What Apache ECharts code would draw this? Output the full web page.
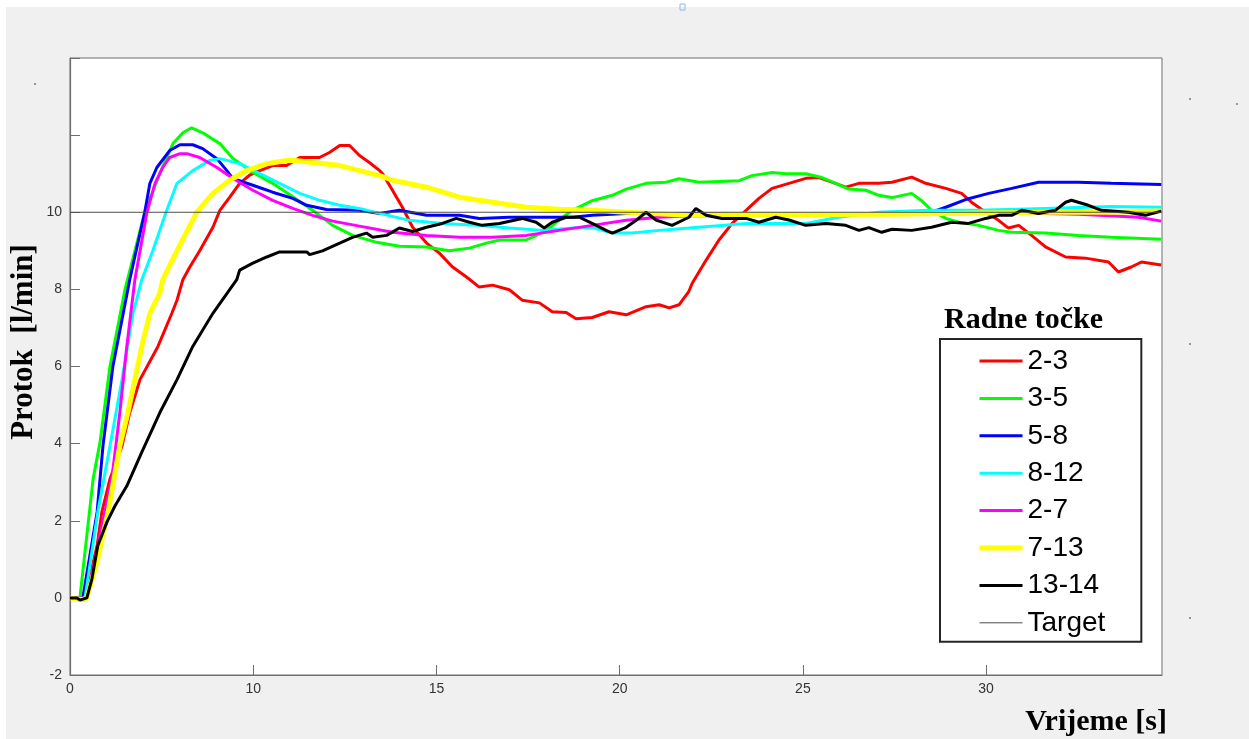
<!DOCTYPE html>
<html>
<head>
<meta charset="utf-8">
<script src="https://cdn.jsdelivr.net/npm/echarts@6/dist/echarts.min.js"></script>
<style>
  html, body { margin: 0; padding: 0; background: #ffffff; }
  #bg { position: absolute; left: 6px; top: 7px; width: 1243px; height: 732px; background: #f0f0f0; }
  #chart { position: absolute; left: 0; top: 0; width: 1249px; height: 739px; }
</style>
</head>
<body>
<div id="bg"></div>
<div id="chart"></div>
<script>
// ---- data (time in axis units, flow in l/min) ----
const seriesNames = ['2-3', '3-5', '5-8', '8-12', '2-7', '7-13', '13-14', 'Target'];
const seriesColors = ['#ff0000', '#00ff00', '#0000ff', '#00ffff', '#ff00ff', '#ffff00', '#000000', '#4d4d4d'];

const xTickLabels = { 5: '0', 10: '10', 15: '15', 20: '20', 25: '25', 30: '30' };
const targetValue = 10;
const timeRange = [5, 34.8];

const data23 = [[5,0],[5.41,0],[5.74,1.36],[5.87,2.23],[6.09,3.08],[6.42,3.94],[6.63,4.8],[6.91,5.66],[7.4,6.52],[7.78,7.38],[7.92,7.72],[8.08,8.25],[8.27,8.58],[8.54,9.0],[8.9,9.61],[9.09,10.05],[9.36,10.39],[9.63,10.75],[9.9,10.96],[10.18,11.08],[10.53,11.21],[10.91,11.21],[11.27,11.42],[11.81,11.42],[12.08,11.55],[12.36,11.73],[12.63,11.73],[12.9,11.47],[13.17,11.29],[13.45,11.08],[13.53,11.0],[13.8,10.57],[14.07,10.13],[14.35,9.61],[14.73,9.2],[15.08,8.94],[15.44,8.58],[15.82,8.32],[16.17,8.06],[16.53,8.11],[16.99,7.99],[17.34,7.72],[17.81,7.65],[18.16,7.42],[18.54,7.4],[18.81,7.24],[19.25,7.27],[19.71,7.42],[20.18,7.34],[20.72,7.55],[21.08,7.6],[21.35,7.52],[21.62,7.6],[21.89,7.95],[21.98,8.16],[22.36,8.76],[22.71,9.28],[23.07,9.71],[23.45,10.05],[23.8,10.36],[24.16,10.62],[24.62,10.75],[25.08,10.88],[25.44,10.9],[25.79,10.78],[26.17,10.65],[26.53,10.75],[27.07,10.75],[27.43,10.78],[27.97,10.91],[28.35,10.75],[28.9,10.62],[29.33,10.49],[29.6,10.26],[29.99,10.0],[30.34,9.79],[30.61,9.59],[30.89,9.66],[31.24,9.4],[31.62,9.1],[32.17,8.84],[32.71,8.81],[33.34,8.71],[33.61,8.45],[33.96,8.58],[34.24,8.71],[34.78,8.63]];

const data35 = [[5,0],[5.27,0],[5.63,3.08],[5.82,4.04],[6.09,6.0],[6.44,7.7],[6.5,8.0],[7.04,10.0],[7.45,11.0],[7.81,11.78],[8.08,12.06],[8.32,12.19],[8.62,12.06],[9.09,11.78],[9.44,11.4],[9.99,11.03],[10.53,10.75],[11.08,10.4],[11.62,10.05],[12.17,9.66],[12.71,9.4],[13.37,9.22],[13.99,9.12],[14.73,9.1],[15.35,9.0],[15.9,9.07],[16.36,9.2],[16.72,9.28],[17.45,9.28],[17.72,9.4],[18.0,9.53],[18.35,9.8],[18.71,10.05],[19.25,10.3],[19.8,10.44],[20.18,10.6],[20.72,10.75],[21.27,10.78],[21.62,10.87],[22.17,10.78],[23.26,10.82],[23.61,10.95],[24.16,11.03],[24.54,11.0],[25.08,11.0],[25.52,10.9],[25.9,10.75],[26.25,10.6],[26.72,10.57],[27.07,10.44],[27.43,10.38],[27.97,10.49],[28.24,10.3],[28.51,10.05],[28.9,9.84],[29.25,9.74],[29.8,9.66],[30.34,9.53],[30.7,9.48],[31.62,9.46],[32.52,9.4],[33.42,9.35],[34.78,9.3]];

const data58 = [[5,0],[5.35,0],[5.74,2.23],[5.9,3.94],[6.17,6.0],[6.63,8.25],[7.04,10.0],[7.18,10.75],[7.37,11.16],[7.72,11.6],[8.0,11.75],[8.35,11.75],[8.62,11.65],[9.01,11.39],[9.28,11.08],[9.44,10.88],[9.99,10.7],[10.53,10.52],[11.08,10.36],[11.46,10.18],[12.0,10.07],[12.9,10.05],[13.45,9.97],[13.99,10.05],[14.73,9.92],[15.63,9.92],[16.17,9.84],[16.99,9.87],[17.89,9.87],[18.71,9.87],[19.25,9.92],[20.18,9.97],[21.89,9.97],[23.5,9.95],[25.5,9.97],[27.5,9.97],[28.51,10.0],[28.9,10.13],[29.44,10.33],[30.07,10.49],[30.7,10.62],[31.43,10.78],[32.52,10.78],[33.42,10.75],[34.78,10.72]];

const data812 = [[5,0],[5.41,0],[5.76,2.23],[6.09,3.94],[6.42,5.66],[6.72,7.38],[6.96,8.25],[7.26,9.0],[7.62,10.0],[7.92,10.75],[8.35,11.08],[8.81,11.34],[9.09,11.39],[9.63,11.26],[10.18,11.0],[10.72,10.75],[11.27,10.49],[11.81,10.31],[12.36,10.18],[12.9,10.1],[13.45,9.97],[14.26,9.79],[15.16,9.71],[16.09,9.66],[16.99,9.59],[17.89,9.53],[18.81,9.6],[19.25,9.6],[19.8,9.46],[20.34,9.46],[21.08,9.53],[21.89,9.59],[22.52,9.64],[23.45,9.71],[24.35,9.71],[25.08,9.71],[25.98,9.87],[27.07,10.0],[28.43,10.05],[29.8,10.05],[31.62,10.1],[33.42,10.15],[34.78,10.13]];

const data27 = [[5,0],[5.46,0],[6.14,3.08],[6.36,4.8],[6.55,6.52],[6.77,8.25],[7.1,10.0],[7.32,10.75],[7.53,11.16],[7.72,11.42],[8.0,11.52],[8.19,11.52],[8.54,11.42],[9.01,11.16],[9.44,10.88],[9.99,10.57],[10.53,10.31],[11.08,10.1],[11.62,9.92],[12.17,9.77],[12.9,9.64],[13.8,9.48],[14.73,9.4],[15.63,9.35],[16.53,9.35],[17.45,9.4],[18.35,9.53],[19.25,9.66],[20.18,9.79],[21.08,9.87],[21.89,9.9],[23.5,9.93],[25.5,9.95],[27.5,9.95],[29.8,9.97],[31.6,9.97],[32.52,9.95],[34.16,9.87],[34.78,9.77]];

const data713 = [[5,0],[5.35,-0.05],[5.46,0],[5.74,0.94],[6.04,2.23],[6.36,3.94],[6.58,4.8],[6.96,6.52],[7.18,7.38],[7.45,7.9],[7.53,8.25],[7.92,9.0],[8.46,10.0],[8.9,10.49],[9.36,10.83],[9.82,11.08],[10.37,11.26],[10.91,11.34],[11.08,11.35],[11.62,11.29],[12.36,11.21],[12.9,11.08],[13.45,10.95],[13.8,10.83],[14.73,10.65],[15.63,10.39],[16.53,10.26],[17.45,10.13],[18.35,10.08],[19.25,10.05],[20.18,10.0],[21.89,9.92],[23.5,9.95],[25.5,9.94],[27.5,9.95],[29.8,9.98],[31.6,10.0],[33.4,10.0],[34.78,10.03]];

const data1314 = [[5,0],[5.19,0],[5.27,-0.06],[5.46,0],[5.6,0.5],[5.76,1.36],[6.01,1.97],[6.23,2.39],[6.55,2.9],[6.96,3.78],[7.45,4.8],[7.92,5.66],[8.35,6.52],[8.9,7.38],[9.55,8.25],[9.63,8.5],[9.99,8.68],[10.37,8.84],[10.72,8.97],[11.46,8.97],[11.54,8.9],[11.89,9.0],[12.36,9.2],[12.71,9.35],[13.09,9.46],[13.26,9.35],[13.64,9.4],[13.99,9.59],[14.35,9.5],[14.73,9.61],[15.16,9.71],[15.54,9.84],[15.9,9.74],[16.25,9.66],[16.72,9.71],[17.34,9.84],[17.72,9.74],[17.94,9.59],[18.16,9.74],[18.54,9.87],[18.9,9.87],[19.25,9.71],[19.63,9.53],[19.8,9.46],[20.18,9.61],[20.45,9.79],[20.72,10.0],[20.99,9.8],[21.43,9.66],[21.89,9.87],[22.08,10.1],[22.36,9.92],[22.79,9.84],[23.45,9.84],[23.8,9.74],[24.26,9.87],[24.62,9.8],[25.08,9.66],[25.63,9.71],[26.17,9.66],[26.53,9.53],[26.8,9.6],[27.15,9.48],[27.43,9.56],[27.97,9.53],[28.51,9.61],[29.06,9.74],[29.52,9.71],[29.99,9.84],[30.34,9.92],[30.7,9.92],[30.97,10.05],[31.43,9.97],[31.89,10.05],[32.17,10.26],[32.33,10.31],[32.79,10.18],[33.15,10.05],[33.88,10.0],[34.35,9.92],[34.78,10.03]];

const dataTarget = [[timeRange[0], targetValue], [timeRange[1], targetValue]];

const allData = [data23, data35, data58, data812, data27, data713, data1314, dataTarget];
const lineWidths = [3, 3, 3, 3, 3, 5, 3, 1];

// ---- chart ----
const chart = echarts.init(document.getElementById('chart'), null, { renderer: 'canvas' });

const serif = "'Liberation Serif', 'Times New Roman', serif";
const sans = "'Liberation Sans', Arial, sans-serif";

const series = seriesNames.map((name, i) => ({
  name: name,
  type: 'line',
  data: allData[i],
  symbol: 'none',
  showSymbol: false,
  smooth: false,
  color: seriesColors[i],
  lineStyle: { color: seriesColors[i], width: lineWidths[i] },
  z: 2 + i,
  animation: false
}));

const option = {
  animation: false,
  backgroundColor: 'transparent',
  grid: {
    left: 70, top: 58, right: 87, bottom: 64,
    show: true, backgroundColor: '#ffffff', borderColor: '#6e6e6e', borderWidth: 1
  },
  xAxis: {
    type: 'value',
    min: timeRange[0], max: timeRange[1], interval: 5,
    axisLine: { show: true, onZero: false, lineStyle: { color: '#6e6e6e', width: 1.2 } },
    axisTick: { show: true, inside: true, length: 10, lineStyle: { color: '#6e6e6e' } },
    axisLabel: {
      margin: 7, color: '#333333', fontFamily: sans, fontSize: 14,
      showMaxLabel: false,
      formatter: v => (xTickLabels[v] !== undefined ? xTickLabels[v] : '')
    },
    splitLine: { show: false }
  },
  yAxis: {
    type: 'value',
    min: -2, max: 14, interval: 2,
    axisLine: { show: true, onZero: false, lineStyle: { color: '#6e6e6e', width: 1.2 } },
    axisTick: { show: true, inside: true, length: 10, lineStyle: { color: '#6e6e6e' } },
    axisLabel: {
      margin: 8, color: '#333333', fontFamily: sans, fontSize: 14,
      formatter: v => (v > 10 ? '' : String(v))
    },
    splitLine: { show: false }
  },
  legend: {
    orient: 'vertical',
    left: 940, top: 339,
    padding: [8, 36, 5, 37],
    itemWidth: 43, itemHeight: 14,
    itemGap: 9.4,
    borderColor: '#262626', borderWidth: 2,
    backgroundColor: '#ffffff',
    selectedMode: false,
    itemStyle: { opacity: 0 },
    lineStyle: { width: 3 },
    textStyle: { fontFamily: sans, fontSize: 28, color: '#000000', lineHeight: 28 },
    data: seriesNames.map((n, i) => ({ name: n, lineStyle: { width: lineWidths[i] } }))
  },
  graphic: [
    {
      type: 'text', x: 24, y: 342, rotation: Math.PI / 2, z: 100,
      style: { text: 'Protok  [l/min]', font: "bold 31px " + serif, fill: '#000', align: 'center', verticalAlign: 'middle' }
    },
    {
      type: 'text', x: 1167, y: 722, z: 100,
      style: { text: 'Vrijeme [s]', font: "bold 30px " + serif, fill: '#000', align: 'right', verticalAlign: 'middle' }
    },
    {
      type: 'text', x: 944, y: 320, z: 100,
      style: { text: 'Radne točke', font: "bold 30px " + serif, fill: '#000', align: 'left', verticalAlign: 'middle' }
    },
    { type: 'circle', shape: { cx: 35, cy: 84, r: 1 }, style: { fill: '#777' } },
    { type: 'circle', shape: { cx: 1190, cy: 99, r: 1 }, style: { fill: '#777' } },
    { type: 'circle', shape: { cx: 1237, cy: 104, r: 1 }, style: { fill: '#777' } },
    { type: 'circle', shape: { cx: 1190, cy: 344, r: 1 }, style: { fill: '#777' } },
    { type: 'circle', shape: { cx: 1190, cy: 618, r: 1 }, style: { fill: '#777' } },
    { type: 'rect', shape: { x: 680, y: 4, width: 5, height: 6 }, style: { fill: 'none', stroke: '#8fb4e6', lineWidth: 1 } }
  ],
  series: series
};

chart.setOption(option);
</script>
</body>
</html>
